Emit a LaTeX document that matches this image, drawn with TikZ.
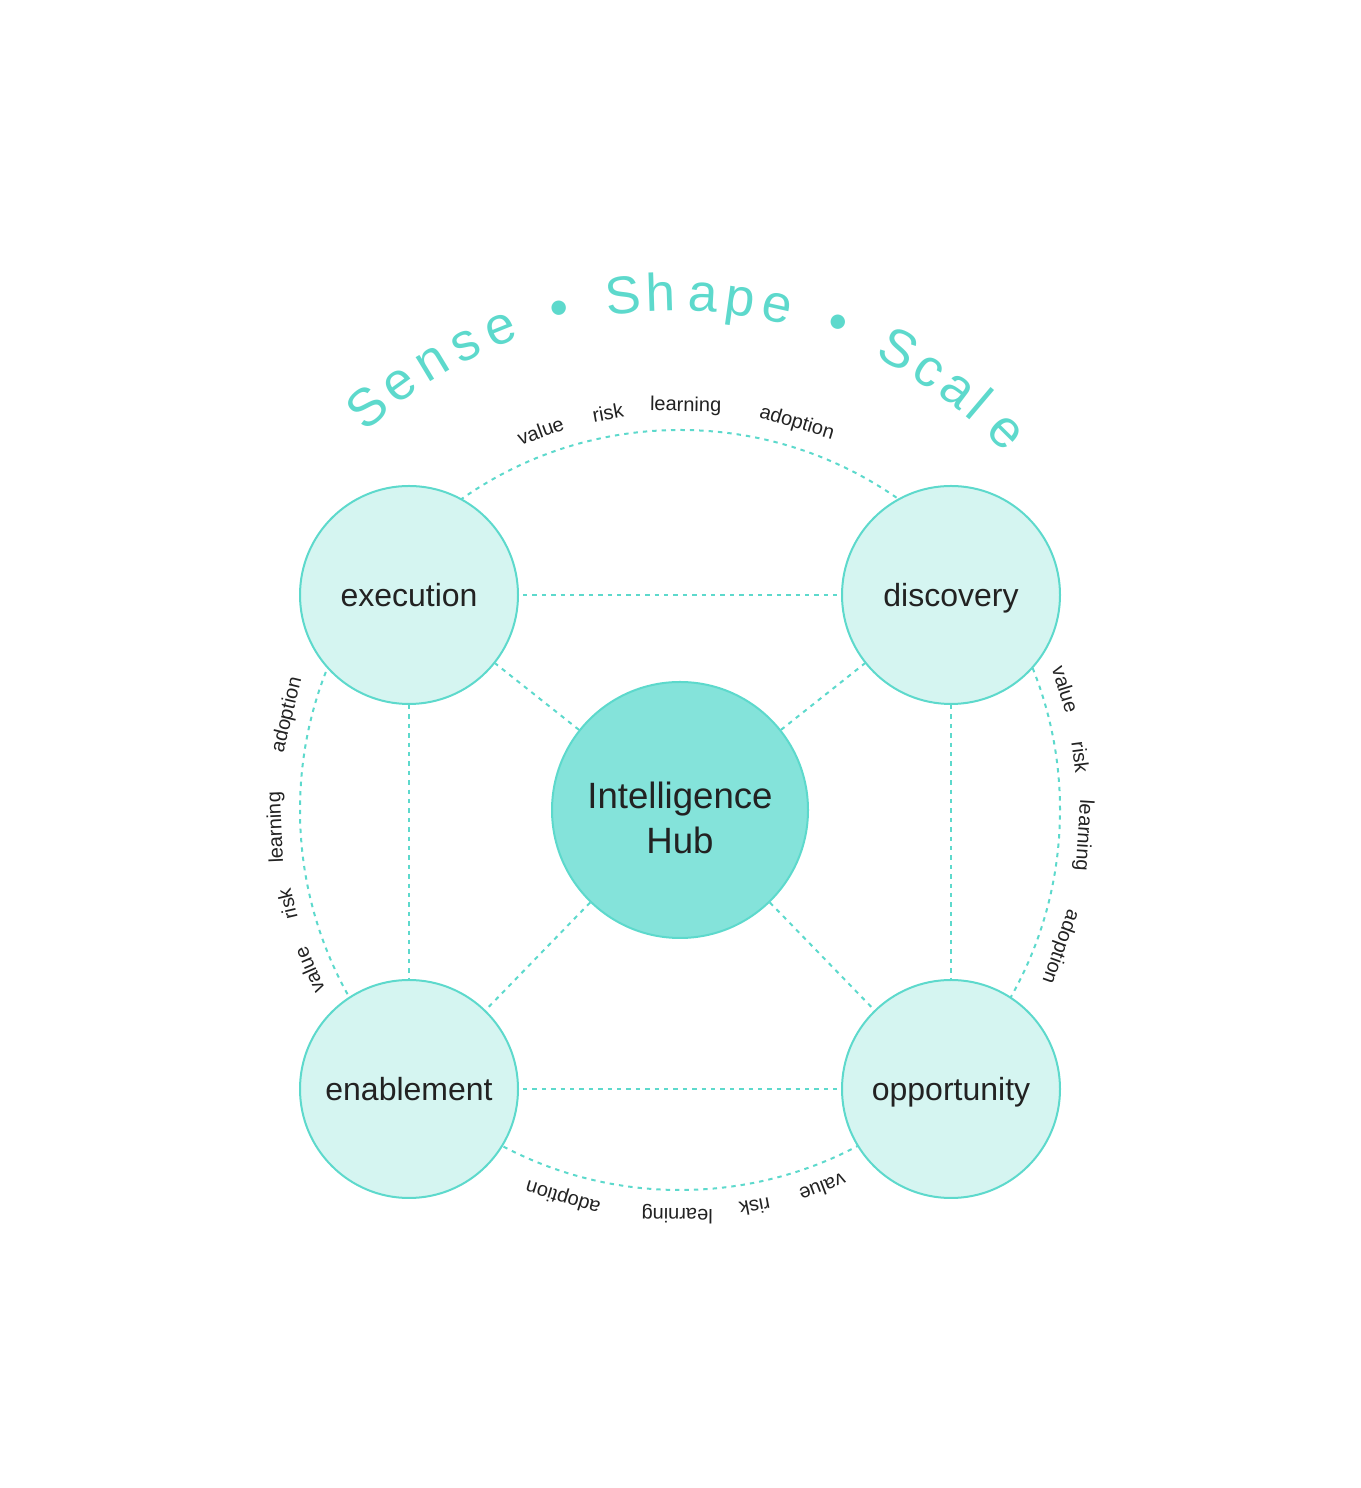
\documentclass[tikz,border=0pt]{standalone}
\usepackage{fontspec}
\setmainfont{Liberation Sans}
\usepackage{xcolor}
\usetikzlibrary{positioning}

\definecolor{ringteal}{HTML}{5DD9CC}
\definecolor{palefill}{HTML}{D5F5F1}
\definecolor{hubfill}{HTML}{84E3DA}
\definecolor{inkgray}{HTML}{222222}

\begin{document}
\begin{tikzpicture}[x=0.5pt, y=0.5pt, on grid,
        ring/.style={draw=ringteal, line width=1pt, dash pattern=on 2.2pt off 2.5pt},
        spoke/.style={draw=ringteal, line width=1pt, dash pattern=on 2.2pt off 2.5pt},
        facet/.style={circle, draw=ringteal, line width=1pt, fill=palefill, minimum size=109pt, inner sep=0pt, text=inkgray, text height=13.8pt, text depth=1.8pt, font=\fontsize{16}{19}\selectfont},
        hubnode/.style={circle, draw=ringteal, line width=1pt, fill=hubfill, minimum size=128pt, inner sep=0pt, align=center, text=inkgray, font=\fontsize{18.3}{22.5}\selectfont},
        ringword/.style={text=inkgray, font=\fontsize{10}{12}\selectfont, inner sep=0pt},
        motto/.style={text=ringteal, font=\fontsize{26.5}{30}\selectfont, anchor=base, inner sep=0pt}]

        \useasboundingbox (0,0) rectangle (1360,1488);
        \coordinate (ctr) at (680,678);
        \coordinate (arcctr) at (675,723);

        % outer dashed ring, behind the circles
        \draw[ring] (ctr) circle (190pt);

        \node[hubnode] (hub) at (ctr) {\rule{0pt}{21.5pt}Intelligence\\Hub};
        \node[facet] (exe) [above left=107.5pt and 135.5pt of hub] {execution};
        \node[facet] (dis) [above right=107.5pt and 135.5pt of hub] {discovery};
        \node[facet] (ena) [below left=139.5pt and 135.5pt of hub] {enablement};
        \node[facet] (opp) [below right=139.5pt and 135.5pt of hub] {opportunity};

        \path[spoke]
        (exe) edge [shorten >=2pt, shorten <=2pt] (dis)
        (ena) edge [shorten >=2pt, shorten <=2pt] (opp)
        (exe) edge (ena)
        (dis) edge (opp)

        (hub) edge (exe)
        (hub) edge (dis)
        (hub) edge (ena)
        (hub) edge (opp);

        % words round the ring
        \foreach \a/\w [count=\i] in {110.2/value, 100.3/risk, 89.2/learning, 73.2/adoption,
                17.4/value, 7.5/risk, -3.6/learning, -19.8/adoption,
                -69.3/value, -79.3/risk, -90.4/learning, -106.8/adoption,
                203.4/value, 193.5/risk, 182.5/learning, 166.4/adoption}
            \path (ctr) ++(\a:202pt) node (word\i) [ringword, rotate=\a-90] {\w};

        % Sense - Shape - Scale
        \foreach \a/\c [count=\i] in {130.7/S, 125.9/e, 121.1/n, 116.5/s, 111.8/e, 104.2/•,
                96.3/S, 91.8/h, 86.6/a, 82.0/p, 77.4/e, 69.8/•,
                61.7/S, 57.2/c, 53.0/a, 49.8/l, 45.2/e}
            \path (arcctr) ++(\a:227pt) node (glyph\i) [motto, rotate=\a-90] {\c};
\end{tikzpicture}
\end{document}
